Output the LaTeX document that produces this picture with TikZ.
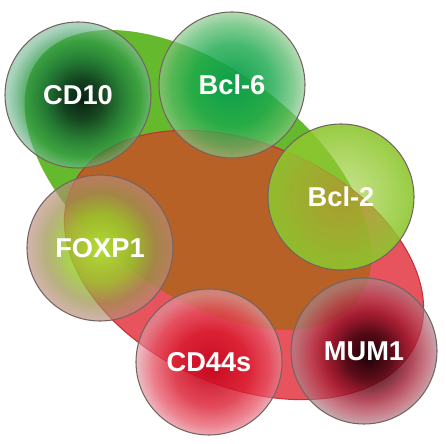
\documentclass[tikz,border=0pt]{standalone}
\usepackage{fontspec}
\setmainfont{Liberation Sans}
\usetikzlibrary{fadings}

\definecolor{grnfield}{RGB}{100,185,45}
\definecolor{redfield}{RGB}{232,84,94}
\definecolor{brnfield}{RGB}{183,97,38}
\definecolor{redline}{RGB}{200,45,55}
\definecolor{rimgray}{RGB}{115,100,95}

\pgfdeclareradialshading{shcdten}{\pgfpoint{2bp}{-2bp}}{rgb(0bp)=(0.03,0.12,0.07); rgb(7bp)=(0.05,0.22,0.12); rgb(14bp)=(0.1,0.45,0.22); rgb(20bp)=(0.18,0.6,0.28); rgb(25bp)=(0.5,0.74,0.62); rgb(50bp)=(0.5,0.74,0.62)}
\pgfdeclareradialshading{shbclsix}{\pgfpoint{0bp}{0bp}}{rgb(0bp)=(0.05,0.62,0.3); rgb(14bp)=(0.1,0.66,0.3); rgb(21bp)=(0.32,0.72,0.4); rgb(25bp)=(0.55,0.78,0.55); rgb(50bp)=(0.55,0.78,0.55)}
\pgfdeclareradialshading{shbcltwo}{\pgfpoint{0bp}{0bp}}{rgb(0bp)=(0.62,0.8,0.22); rgb(25bp)=(0.55,0.78,0.18); rgb(50bp)=(0.55,0.78,0.18)}
\pgfdeclareradialshading{shfoxp}{\pgfpoint{0bp}{0bp}}{rgb(0bp)=(0.7,0.87,0.2); rgb(12bp)=(0.6,0.78,0.18); rgb(19bp)=(0.62,0.58,0.32); rgb(25bp)=(0.73,0.55,0.49); rgb(50bp)=(0.73,0.55,0.49)}
\pgfdeclareradialshading{shcdff}{\pgfpoint{1bp}{-3bp}}{rgb(0bp)=(0.78,0.04,0.13); rgb(13bp)=(0.85,0.1,0.18); rgb(20bp)=(0.9,0.3,0.37); rgb(25bp)=(0.88,0.58,0.63); rgb(50bp)=(0.88,0.58,0.63)}
\pgfdeclareradialshading{shmum}{\pgfpoint{2bp}{-2bp}}{rgb(0bp)=(0.1,0,0.02); rgb(8bp)=(0.28,0.01,0.06); rgb(15bp)=(0.6,0.07,0.16); rgb(20bp)=(0.7,0.25,0.32); rgb(25bp)=(0.66,0.5,0.53); rgb(50bp)=(0.66,0.5,0.53)}

\tikzfading[name=softrim, inner color=transparent!0, outer color=transparent!35]
\tikzfading[name=openmid, inner color=transparent!45, outer color=transparent!10]

\begin{document}
\begin{tikzpicture}[
    bubble/.style={circle, minimum size=2.92cm, inner sep=0pt, draw=rimgray, line width=0.6pt,
      text=white, font=\fontsize{15.5}{18}\selectfont\bfseries},
    greenarea/.style={rotate around={-37:(3.96,5.26)}},
    redarea/.style={rotate around={-24:(4.88,3.56)}}]
  \useasboundingbox (0,0) rectangle (8.92,8.86);

  \fill[grnfield, greenarea] (3.96,5.26) ellipse (4 and 2.24);
  \fill[redfield, redarea] (4.88,3.56) ellipse (3.78 and 2.42);
  \begin{scope}
    \clip[greenarea] (3.96,5.26) ellipse (4 and 2.24);
    \fill[brnfield, redarea] (4.88,3.56) ellipse (3.78 and 2.42);
  \end{scope}
  \draw[redline, line width=0.6pt, redarea] (4.88,3.56) ellipse (3.78 and 2.42);

  \foreach \nm/\x/\y/\txt/\shd/\fad in {cdten/1.56/6.96/CD10/shcdten/softrim,
      bclsix/4.64/7.16/Bcl-6/shbclsix/softrim, bcltwo/6.82/4.92/Bcl-2/shbcltwo/openmid,
      foxpone/2.00/3.90/FOXP1/shfoxp/softrim, cdff/4.18/1.62/CD44s/shcdff/softrim,
      mumone/7.28/1.84/MUM1/shmum/softrim} {
    \shade[shading=\shd, path fading=\fad] (\x,\y) circle (1.46);
    \node[bubble] (\nm) at (\x,\y) {\txt};
  }
\end{tikzpicture}
\end{document}
